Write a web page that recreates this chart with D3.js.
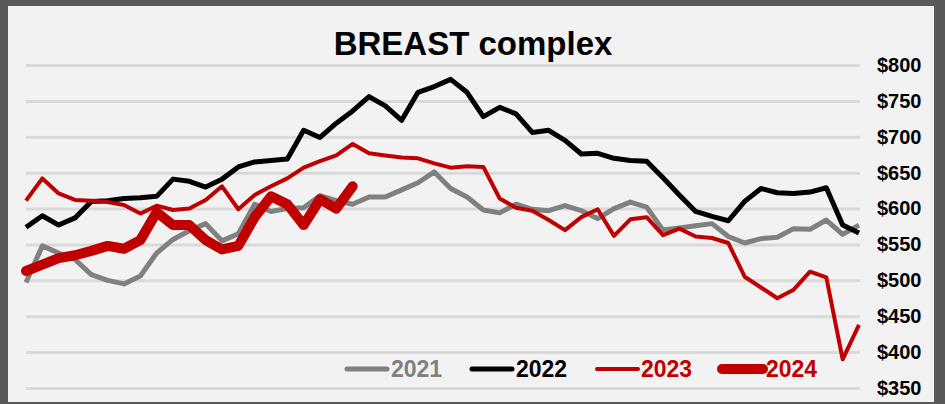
<!DOCTYPE html>
<html>
<head>
<meta charset="utf-8">
<script src="https://cdn.jsdelivr.net/npm/d3@7"></script>
<style>
  html, body { margin: 0; padding: 0; background: #595959; }
  svg { display: block; font-family: "Liberation Sans", Arial, sans-serif; }
</style>
</head>
<body>
<svg id="chart" width="945" height="404"></svg>
<script>
// ---- data ----
const title = "BREAST complex";
const weeks = d3.range(52); // week index 0..51
const tickValues = [350, 400, 450, 500, 550, 600, 650, 700, 750, 800];
const seriesNames = ["2021", "2022", "2023", "2024"];
const v2021 = [497, 548, 538, 529, 508, 500, 495, 506, 538, 557, 569, 579, 555, 565, 606, 596, 600, 601, 618, 611,
               606, 616, 616, 626, 636, 651, 628, 616, 598, 594, 606, 599, 597, 604, 597, 586, 600, 609, 602, 570,
               573, 576, 579, 561, 552, 558, 560, 572, 571, 584, 564, 577];
const v2022 = [574, 590, 577, 587, 610, 611, 614, 615, 617, 641, 638, 630, 641, 658, 665, 667, 669, 709, 699, 719,
               736, 756, 743, 723, 762, 770, 780, 762, 728, 741, 732, 706, 709, 695, 676, 677, 670, 667, 666, 643,
               619, 596, 589, 583, 610, 628, 622, 621, 623, 629, 577, 566];
const v2023 = [611, 642, 621, 612, 611, 609, 605, 593, 604, 598, 600, 612, 631, 599, 619, 631, 642, 657, 666, 674,
               690, 677, 674, 671, 670, 663, 657, 659, 658, 614, 601, 597, 584, 570, 588, 599, 562, 585, 588, 563,
               572, 561, 559, 552, 505, 490, 475, 487, 512, 504, 390, 438];
const v2024 = [513, 522, 531, 535, 541, 548, 544, 556, 595, 577, 577, 556, 543, 548, 588, 617, 606, 577, 613, 600, 631];

// ---- styles ----
const styles = {
  "2021": { color: "#808080", width: 5, cap: "butt" },
  "2022": { color: "#000000", width: 5, cap: "butt" },
  "2023": { color: "#c00000", width: 4, cap: "butt" },
  "2024": { color: "#c00000", width: 10, cap: "round" }
};
const seriesValues = { "2021": v2021, "2022": v2022, "2023": v2023, "2024": v2024 };

const svg = d3.select("#chart");
const W = 945, H = 404;

// frame
svg.append("rect").attr("x", 0).attr("y", 0).attr("width", W).attr("height", H).attr("fill", "#595959");
svg.append("rect").attr("x", 8).attr("y", 6).attr("width", 926).attr("height", 396).attr("fill", "#f2f2f2");

const x = d3.scaleLinear().domain([0, 51]).range([26, 859]);
const y = d3.scaleLinear().domain([350, 800]).range([388, 65]);

// gridlines
const grid = svg.append("g").attr("transform", "translate(860,0)")
  .call(d3.axisLeft(y).tickValues(tickValues).tickSize(860 - 26).tickFormat(""));
grid.select(".domain").remove();
grid.selectAll(".tick line").attr("stroke", "#d9d9d9").attr("stroke-width", 3);

// y-axis labels
const yAxis = svg.append("g").attr("transform", "translate(860,0)")
  .call(d3.axisRight(y).tickValues(tickValues).tickSize(0).tickPadding(17).tickFormat(d => "$" + d));
yAxis.select(".domain").remove();
yAxis.selectAll("text")
  .attr("font-family", "'Liberation Sans', Arial, sans-serif")
  .attr("font-size", 20).attr("font-weight", "bold").attr("fill", "#000");

// title
svg.append("text").attr("x", 473).attr("y", 55).attr("text-anchor", "middle")
  .attr("font-size", 33).attr("font-weight", "bold").attr("fill", "#000").text(title);

// lines
const line = d3.line().x((d, i) => x(weeks[i])).y(d => y(d)).curve(d3.curveLinear);
seriesNames.forEach(name => {
  const s = styles[name];
  svg.append("path").datum(seriesValues[name])
    .attr("d", line)
    .attr("fill", "none")
    .attr("stroke", s.color)
    .attr("stroke-width", s.width)
    .attr("stroke-linejoin", "round")
    .attr("stroke-linecap", s.cap);
});

// legend
const legendPos = [
  { x1: 347, x2: 387, tx: 391 },
  { x1: 472, x2: 512, tx: 516 },
  { x1: 597, x2: 638, tx: 641 },
  { x1: 722, x2: 763, tx: 766 }
];
const legend = svg.append("g");
seriesNames.forEach((name, i) => {
  const s = styles[name], p = legendPos[i];
  legend.append("line").attr("x1", p.x1).attr("x2", p.x2).attr("y1", 369).attr("y2", 369)
    .attr("stroke", s.color).attr("stroke-width", s.width).attr("stroke-linecap", "round");
  legend.append("text").attr("x", p.tx).attr("y", 377)
    .attr("font-size", 23).attr("font-weight", "bold")
    .attr("fill", name === "2021" ? "#808080" : s.color)
    .text(name);
});
</script>
</body>
</html>
